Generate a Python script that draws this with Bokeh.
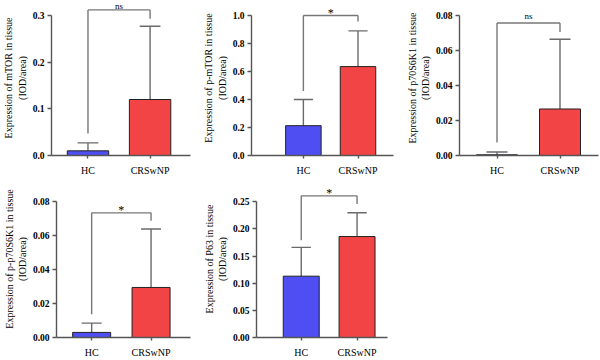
from bokeh.plotting import figure
from bokeh.layouts import column, row
from bokeh.models import Range1d, FixedTicker
from bokeh.core.properties import value
from bokeh.embed import file_html
from bokeh.resources import INLINE

# ---------------- data ----------------
categories = ["HC", "CRSwNP"]
x_pos = [1, 2]

mtor_mean = [0.010, 0.120]
mtor_sd = [0.017, 0.157]
p_mtor_mean = [0.213, 0.635]
p_mtor_sd = [0.187, 0.255]
p70_mean = [0.0004, 0.0265]
p70_sd = [0.0016, 0.0397]
pp70_mean = [0.0030, 0.0295]
pp70_sd = [0.0055, 0.0345]
p63_mean = [0.113, 0.186]
p63_sd = [0.053, 0.044]

significance = ["ns", "*", "ns", "*", "*"]
bracket_top = [0.312, 1.0, 0.0755, 0.0735, 0.261]
bracket_left_end = [0.047, 0.46, 0.0074, 0.0137, 0.179]
bracket_right_end = [0.293, 0.957, 0.0704, 0.0688, 0.246]

ticks_mtor = [0.0, 0.1, 0.2, 0.3]
tick_labels_mtor = ["0.0", "0.1", "0.2", "0.3"]
ticks_p_mtor = [0.0, 0.2, 0.4, 0.6, 0.8, 1.0]
tick_labels_p_mtor = ["0.0", "0.2", "0.4", "0.6", "0.8", "1.0"]
ticks_p70 = [0.0, 0.02, 0.04, 0.06, 0.08]
tick_labels_p70 = ["0.00", "0.02", "0.04", "0.06", "0.08"]
ticks_p63 = [0.0, 0.05, 0.10, 0.15, 0.20, 0.25]
tick_labels_p63 = ["0.00", "0.05", "0.10", "0.15", "0.20", "0.25"]

ylabels = [
    "Expression of mTOR in tissue\n(IOD/area)",
    "Expression of p-mTOR in tissue\n(IOD/area)",
    "Expression of p70S6K1 in tissue\n(IOD/area)",
    "Expression of p-p70S6K1 in tissue\n(IOD/area)",
    "Expression of P63 in tissue\n(IOD/area)",
]

# ---------------- style ----------------
BAR_COLORS = ["#4E4EF2", "#F24444"]
FONT = "Liberation Serif"
AXIS_COLOR = "#555555"
ERR_COLOR = "#6a6a6a"
TXT_COLOR = "#000000"

# layout specs in reference pixel coordinates
# box_x, box_y, axis_x, axis_end, y_zero_px, y_top_px, hc_px, crs_px, bar_px
layouts = [
    (0, 0, 49, 190, 155, 15, 86, 149, 42),
    (200, 0, 237, 393, 155, 15, 294, 354, 39),
    (400, 0, 459, 598, 156, 14.7, 496.5, 559.5, 41),
    (0, 180, 49, 190, 342, 202, 86, 148.5, 40),
    (200, 180, 245, 387, 342, 202, 293.5, 354, 39),
]

panels = [
    (mtor_mean, mtor_sd, ticks_mtor, tick_labels_mtor),
    (p_mtor_mean, p_mtor_sd, ticks_p_mtor, tick_labels_p_mtor),
    (p70_mean, p70_sd, ticks_p70, tick_labels_p70),
    (pp70_mean, pp70_sd, ticks_p70, tick_labels_p70),
    (p63_mean, p63_sd, ticks_p63, tick_labels_p63),
]


def make_panel(i):
    means, sds, ticks, tlabels = panels[i]
    bx, by, L, R, y0, ytop, cH, cC, bw = layouts[i]
    fig_w = 200
    fig_h = 180
    b_left = round(L - bx)
    b_right = fig_w - round(R - bx)
    b_bottom = fig_h - round(y0 - by)
    unit = cC - cH
    xs = 1 - (cH - L) / unit
    xe = 2 + (R - cC) / unit
    ymax = ticks[-1]
    ye = ymax * (y0 - by) / (y0 - ytop)

    p = figure(width=fig_w, height=fig_h, output_backend="svg", toolbar_location=None,
               x_range=Range1d(xs, xe), y_range=Range1d(0, ye),
               min_border_left=b_left, min_border_right=b_right,
               min_border_top=0, min_border_bottom=b_bottom)
    p.outline_line_color = None
    p.xgrid.visible = False
    p.ygrid.visible = False
    p.background_fill_color = "white"
    p.border_fill_color = "white"

    bar_w = bw / unit
    cap = 21 / unit
    tops = [m + s for m, s in zip(means, sds)]
    # error bars
    p.segment(x0=x_pos, y0=means, x1=x_pos, y1=tops, line_color=ERR_COLOR, line_width=1.4)
    p.segment(x0=[x - cap / 2 for x in x_pos], y0=tops, x1=[x + cap / 2 for x in x_pos], y1=tops,
              line_color=ERR_COLOR, line_width=1.4)
    # bars
    p.vbar(x=x_pos, top=means, width=bar_w, bottom=0, fill_color=BAR_COLORS,
           line_color="#222222", line_width=1)
    # bracket
    bt = bracket_top[i]
    p.segment(x0=[x_pos[0], x_pos[0], x_pos[1]], y0=[bt, bt, bt],
              x1=[x_pos[1], x_pos[0], x_pos[1]], y1=[bt, bracket_left_end[i], bracket_right_end[i]],
              line_color="#777777", line_width=1.4)
    sig = significance[i]
    is_ns = sig == "ns"
    p.text(x=[(x_pos[0] + x_pos[1]) / 2], y=[bt], text=[sig], text_align="center",
           text_baseline="bottom", y_offset=(1 if i == 0 else -2) if is_ns else 4,
           text_font=value(FONT), text_font_size="9px" if is_ns else "12px",
           text_color=TXT_COLOR)

    # axes
    ya = p.yaxis[0]
    ya.ticker = FixedTicker(ticks=ticks)
    ya.major_label_overrides = {t: l for t, l in zip(ticks, tlabels)}
    ya.bounds = (0, ymax)
    ya.axis_label = ylabels[i]
    ya.axis_label_text_font = FONT
    ya.axis_label_text_font_size = "10px"
    ya.axis_label_text_font_style = "normal"
    ya.axis_label_text_color = TXT_COLOR
    ya.axis_label_standoff = 2
    ya.major_label_text_font = FONT
    ya.major_label_text_font_size = "9.5px"
    ya.major_label_text_font_style = "bold"
    ya.major_label_text_color = TXT_COLOR
    ya.major_label_standoff = 3
    ya.axis_line_color = AXIS_COLOR
    ya.axis_line_width = 1.4
    ya.major_tick_line_color = AXIS_COLOR
    ya.major_tick_line_width = 1.4
    ya.major_tick_out = 4
    ya.major_tick_in = 0
    ya.minor_tick_line_color = None

    xa = p.xaxis[0]
    xa.ticker = FixedTicker(ticks=x_pos)
    xa.major_label_overrides = {x: c for x, c in zip(x_pos, categories)}
    xa.major_label_text_font = FONT
    xa.major_label_text_font_size = "10px"
    xa.major_label_text_color = TXT_COLOR
    xa.major_label_standoff = 6
    xa.axis_line_color = AXIS_COLOR
    xa.axis_line_width = 1.4
    xa.major_tick_line_color = AXIS_COLOR
    xa.major_tick_line_width = 1.4
    xa.major_tick_out = 3
    xa.major_tick_in = 0
    xa.minor_tick_line_color = None
    return p


figs = [make_panel(i) for i in range(5)]
layout = column(row(figs[0], figs[1], figs[2]), row(figs[3], figs[4]), spacing=0)

open("out.html", "w").write(file_html(layout, INLINE))
